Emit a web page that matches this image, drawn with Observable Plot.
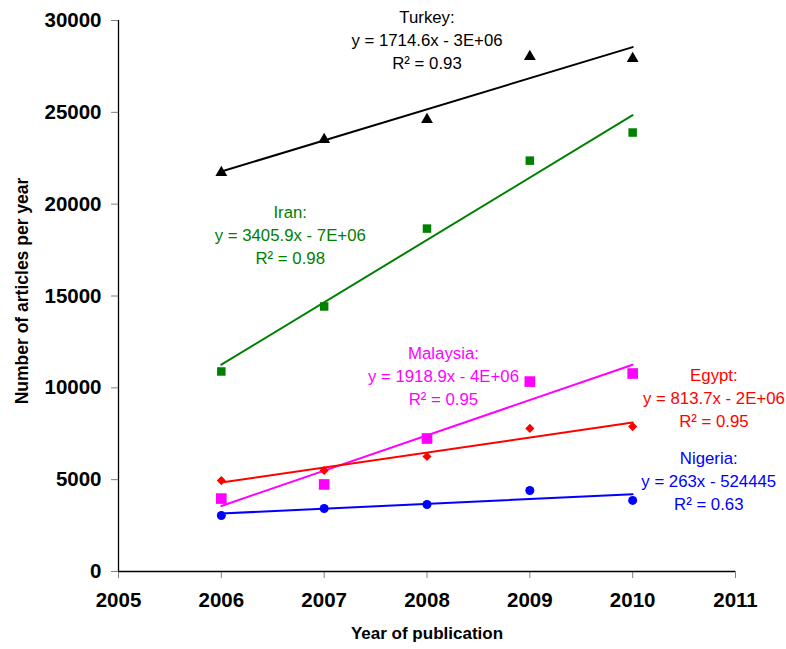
<!DOCTYPE html>
<html><head><meta charset="utf-8">
<script src="https://cdn.jsdelivr.net/npm/d3@7"></script>
<script src="https://cdn.jsdelivr.net/npm/@observablehq/plot@0.6"></script>
<style>body{margin:0;background:#fff}</style>
</head><body><div id="chart"></div>
<script>
// ---- data ----
const years = [2006, 2007, 2008, 2009, 2010];
const turkey = [21720, 23520, 24610, 28040, 27930];
const iran = [10890, 14430, 18670, 22370, 23900];
const malaysia = [3970, 4740, 7240, 10340, 10780];
const egypt = [4950, 5500, 6260, 7790, 7890];
const nigeria = [3050, 3430, 3650, 4410, 3870];
const countries = ["Turkey", "Iran", "Malaysia", "Egypt", "Nigeria"];
const equations = ["y = 1714.6x - 3E+06", "y = 3405.9x - 7E+06", "y = 1918.9x - 4E+06", "y = 813.7x - 2E+06", "y = 263x - 524445"];
const r2 = ["0.93", "0.98", "0.95", "0.95", "0.63"];
const xTicks = [2005, 2006, 2007, 2008, 2009, 2010, 2011];
const yTicks = [0, 5000, 10000, 15000, 20000, 25000, 30000];

// ---- styles / label placement ----
const values = {Turkey: turkey, Iran: iran, Malaysia: malaysia, Egypt: egypt, Nigeria: nigeria};
const styles = {
  Turkey:   {color: "#000000", symbol: "triangle", r: 4.4},
  Iran:     {color: "#008000", symbol: "square",   r: 4.8},
  Malaysia: {color: "#ff00ff", symbol: "square",   r: 6.0},
  Egypt:    {color: "#ff0000", symbol: "diamond2", r: 4.1},
  Nigeria:  {color: "#0000ff", symbol: "circle",   r: 4.5}
};
const labelPos = {
  Turkey:   [2008.0, 29000],
  Iran:     [2006.67, 18400],
  Malaysia: [2008.16, 10730],
  Egypt:    [2010.79, 9530],
  Nigeria:  [2010.74, 5010]
};

const font = "'Liberation Sans', Arial, sans-serif";
const marks = [];
countries.forEach((c, i) => {
  const rows = years.map((yr, j) => ({year: yr, value: values[c][j]}));
  const s = styles[c];
  marks.push(Plot.linearRegressionY(rows, {x: "year", y: "value", stroke: s.color, strokeWidth: 2, ci: 0}));
  marks.push(Plot.dot(rows, {x: "year", y: "value", fill: s.color, stroke: "none", symbol: s.symbol, r: s.r}));
  marks.push(Plot.text([{x: labelPos[c][0], y: labelPos[c][1], t: `${c}:\n${equations[i]}\nR² = ${r2[i]}`}],
    {x: "x", y: "y", text: "t", fill: s.color, fontSize: 16.8, lineHeight: 1.38, fontFamily: font}));
});

const chart = Plot.plot({
  width: 786, height: 649,
  marginLeft: 118, marginRight: 51, marginTop: 20, marginBottom: 78,
  style: {fontFamily: font, background: "#fff", color: "#000"},
  x: {domain: [2005, 2011], ticks: xTicks, tickFormat: "d"},
  y: {domain: [0, 30000], ticks: yTicks, tickFormat: "d"},
  marks: [
    Plot.axisX({ticks: xTicks, tickFormat: "d", tickSize: 7, tickPadding: 14, fontSize: 20.5, fontWeight: "bold", stroke: "#808080", label: null}),
    Plot.axisY({ticks: yTicks, tickFormat: "d", tickSize: 7, tickPadding: 10, fontSize: 20.5, fontWeight: "bold", stroke: "#808080", label: null}),
    Plot.ruleY([0], {stroke: "#000", strokeWidth: 1.3}),
    Plot.ruleX([2005], {stroke: "#000", strokeWidth: 1.3}),
    Plot.text(["Year of publication"], {frameAnchor: "bottom", dy: 67, fontSize: 17, fontWeight: "bold", fontFamily: font}),
    Plot.text(["Number of articles per year"], {frameAnchor: "left", dx: -96, dy: -5, rotate: -90, textAnchor: "middle", fontSize: 17.5, fontWeight: "bold", fontFamily: font}),
    ...marks
  ]
});
document.getElementById("chart").appendChild(chart);
</script>
</body></html>
